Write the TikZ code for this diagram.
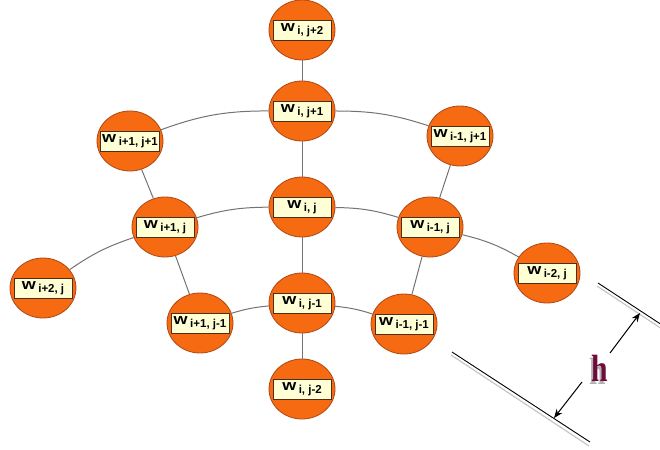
\documentclass[tikz,border=0pt]{standalone}
\usepackage{fontspec}
\setmainfont{Liberation Sans}
\newfontfamily\hfont{Liberation Serif}
\usetikzlibrary{shapes.geometric,arrows.meta}
\definecolor{orangefill}{RGB}{246,106,18}
\definecolor{orangedraw}{RGB}{176,72,20}
\definecolor{boxfill}{RGB}{255,255,214}
\definecolor{boxdraw}{RGB}{80,45,20}
\definecolor{edgegray}{RGB}{115,115,115}
\definecolor{hmaroon}{RGB}{110,12,60}
\newcommand\wsub[1]{\scalebox{1.2}[1]{w}\hspace{2.5pt}\raisebox{-3.5pt}{\fontsize{11.5}{11.5}\selectfont #1}}
\newcommand\wnode[4]{\node[wcirc] (#1) at (#2,-#3) {}; \node[wbox] (#1b) at (#1) {\wsub{#4}};}
\newcommand\hglyph{\scalebox{0.9}[1.15]{h}}
\newcommand\hshadowed{\makebox[0pt][l]{\hspace{-2.5pt}\raisebox{-2.5pt}{\textcolor{gray!60}{\hglyph}}}\textcolor{hmaroon}{\hglyph}}
\begin{document}
\begin{tikzpicture}[x=1pt,y=1pt,
  wcirc/.style={ellipse, minimum width=66pt, minimum height=60pt, inner sep=0pt, fill=orangefill, draw=orangedraw, line width=0.8pt},
  wbox/.style={rectangle, fill=boxfill, draw=boxdraw, line width=0.8pt, minimum width=58pt, minimum height=20pt, inner sep=1.5pt, font=\bfseries\fontsize{15}{15}\selectfont},
  link/.style={draw=edgegray, line width=1pt},
  plane/.style={draw=black, line width=0.9pt},
  planeshadow/.style={draw=gray!45, line width=1.2pt},
  dimarrow/.style={draw=black, line width=1pt, -{Stealth[length=9pt,width=7pt]}}]
\useasboundingbox (0,0) rectangle (660,-449);

% nodes
\wnode{ijp2}{302}{30}{i, j+2}
\wnode{ijp1}{302}{111}{i, j+1}
\wnode{ij}{302}{207}{i, j}
\wnode{ijm1}{302}{303}{i, j-1}
\wnode{ijm2}{302}{389}{i, j-2}
\wnode{ipjp}{130}{141}{i+1, j+1}
\wnode{ipj}{165}{227}{i+1, j}
\wnode{ipjm}{200}{323}{i+1, j-1}
\wnode{ip2j}{43}{288}{i+2, j}
\wnode{imjp}{460}{136}{i-1, j+1}
\wnode{imj}{430}{227}{i-1, j}
\wnode{imjm}{404}{324}{i-1, j-1}
\wnode{im2j}{547}{273}{i-2, j}

% vertical line
\draw[link] (ijp2) -- (ijp1);
\draw[link] (ijp1) -- (ij);
\draw[link] (ij) -- (ijm1);
\draw[link] (ijm1) -- (ijm2);
% radial lines
\draw[link] (ipjp) -- (ipj);
\draw[link] (ipj) -- (ipjm);
\draw[link] (imjp) -- (imj);
\draw[link] (imj) -- (imjm);
% arcs
\draw[link] (ipjp) to[bend left=10] (ijp1);
\draw[link] (ijp1) to[bend left=9] (imjp);
\draw[link] (ip2j) to[bend left=8] (ipj);
\draw[link] (ipj) to[bend left=8] (ij);
\draw[link] (ij) to[bend left=8] (imj);
\draw[link] (imj) to[bend left=8] (im2j);
\draw[link] (ipjm) to[bend left=6] (ijm1);
\draw[link] (ijm1) to[bend left=6] (imjm);

% dimension h
\coordinate (p1a) at (598,-283);
\coordinate (p1b) at (662,-325);
\coordinate (p1as) at (597,-286);
\coordinate (p1bs) at (662,-329);
\coordinate (p2a) at (452,-352);
\coordinate (p2b) at (590,-442);
\coordinate (p2as) at (451,-355);
\coordinate (p2bs) at (589,-446);
\draw[planeshadow] (p1as) -- (p1bs);
\draw[planeshadow] (p2as) -- (p2bs);
\draw[plane] (p1a) -- (p1b);
\draw[plane] (p2a) -- (p2b);
\coordinate (a1s) at (610,-353);
\coordinate (a1t) at (640,-313);
\coordinate (a2s) at (582,-382);
\coordinate (a2t) at (554,-418);
\draw[dimarrow] (a1s) -- (a1t);
\draw[dimarrow] (a2s) -- (a2t);
\node[font=\hfont\bfseries\fontsize{33}{33}\selectfont, inner sep=0pt] (hlabel) at (600,-370) {\hshadowed};
\end{tikzpicture}
\end{document}
